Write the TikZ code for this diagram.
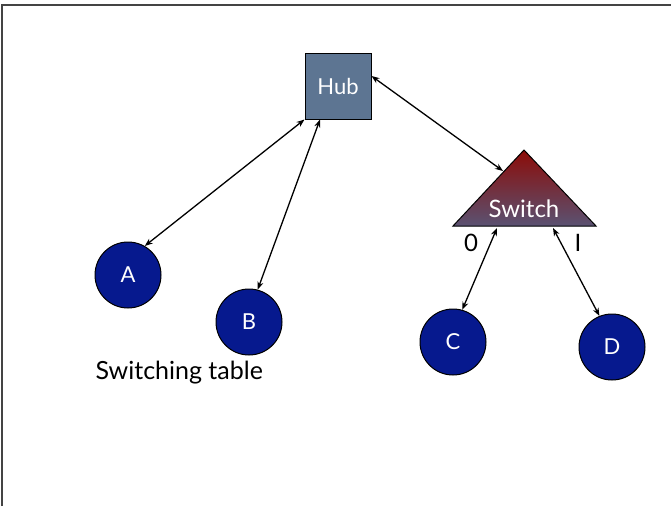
\documentclass[tikz,border=0pt]{standalone}
\usepackage{fontspec}
\setmainfont{Lato}
\usetikzlibrary{arrows.meta}
\definecolor{hubfill}{HTML}{5D7592}
\definecolor{hostfill}{HTML}{06198E}
\definecolor{swtop}{HTML}{8C0C08}
\definecolor{swbot}{HTML}{5A5272}
\definecolor{framegray}{HTML}{444444}
\tikzset{
  host/.style={circle, draw=black, line width=1pt, fill=hostfill,
    minimum size=66pt, inner sep=0pt, text=white, font=\fontsize{22}{22}\selectfont},
  hubbox/.style={draw=black, line width=1pt, fill=hubfill, minimum size=66pt,
    inner sep=0pt, text=white, font=\fontsize{22}{22}\selectfont},
  link/.style={line width=1.3pt, {Stealth[length=8pt,width=6pt]}-{Stealth[length=8pt,width=6pt]}},
  portlabel/.style={font=\fontsize{24}{24}\selectfont},
}
\begin{document}
\begin{tikzpicture}[x=1pt,y=-1pt]
  \useasboundingbox (0,0) rectangle (671,506);
  % partial frame along the top and left edges
  \draw[framegray, line width=1.4pt] (2,506) -- (2,5) -- (671,5);

  % hub
  \node[hubbox] (hub) at (338,86) {Hub};

  % switch triangle
  \coordinate (apex) at (524,150);
  \coordinate (bl) at (453,226);
  \coordinate (br) at (596,226);
  \shade[top color=swtop, bottom color=swbot] (apex) -- (br) -- (bl) -- cycle;
  \draw[line width=1pt, line join=miter] (apex) -- (br) -- (bl) -- cycle;
  \node[text=white, font=\fontsize{24}{24}\selectfont] (sw) at (524,209) {Switch};
  \coordinate (swin) at (503,171);
  \coordinate (port0) at (497,228);
  \coordinate (port1) at (553,228);

  % hosts
  \node[host] (A) at (128,275) {A};
  \node[host] (B) at (249,322) {B};
  \node[host] (C) at (453,342) {C};
  \node[host] (D) at (612,347) {D};

  % port labels
  \node[portlabel] (p0) at (471,243) {0};
  \node[portlabel] (p1) at (578,243) {I};

  \node[font=\fontsize{25}{25}\selectfont, anchor=west] (tbl) at (92,373) {Switching table};

  % links
  \draw[link] (hub.south west) -- (A.60);
  \draw[link] ([xshift=-18pt]hub.south) -- (B.75);
  \draw[link] ([yshift=10pt]hub.east) -- (swin);
  \draw[link] (port0) -- (C.74);
  \draw[link] (port1) -- (D.112);
\end{tikzpicture}
\end{document}
